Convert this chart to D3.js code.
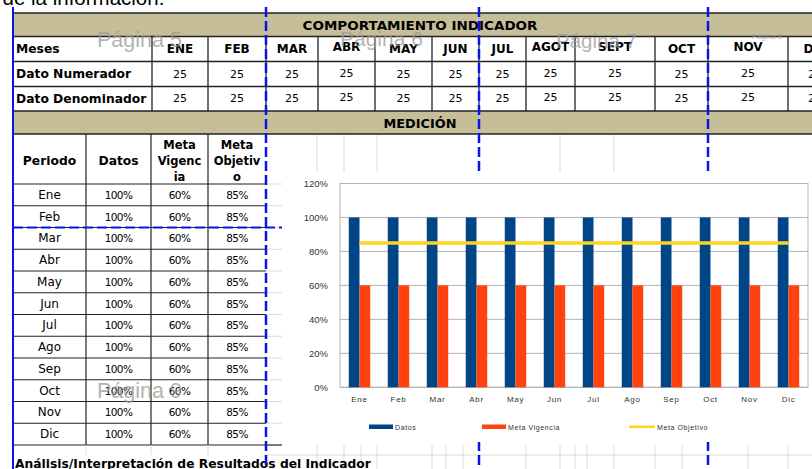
<!DOCTYPE html>
<html><head><meta charset="utf-8">
<script src="https://cdn.jsdelivr.net/npm/d3@7"></script>
<style>html,body{margin:0;padding:0;background:#fff;overflow:hidden}</style>
</head><body>
<svg id="c" width="812" height="469"></svg>
<script>
// ---------- DATA ----------
const monthHeaders = ["ENE","FEB","MAR","ABR","MAY","JUN","JUL","AGOT","SEPT","OCT","NOV","DIC"];
const numerador   = [25,25,25,25,25,25,25,25,25,25,25,25];
const denominador = [25,25,25,25,25,25,25,25,25,25,25,25];
const months = ["Ene","Feb","Mar","Abr","May","Jun","Jul","Ago","Sep","Oct","Nov","Dic"];
const datos        = [1,1,1,1,1,1,1,1,1,1,1,1];
const metaVigencia = [0.6,0.6,0.6,0.6,0.6,0.6,0.6,0.6,0.6,0.6,0.6,0.6];
const metaObjetivo = [0.85,0.85,0.85,0.85,0.85,0.85,0.85,0.85,0.85,0.85,0.85,0.85];
const yTicks = [0,0.2,0.4,0.6,0.8,1.0,1.2];
const seriesNames = ["Datos","Meta Vigencia","Meta Objetivo"];

// ---------- SETUP ----------
const svg = d3.select("#c");
const TAN = "#C5BE98", LINE = "#222", GRID = "#dcdcdc";
const BOLD = "'DejaVu Sans', sans-serif";
const pct = v => Math.round(v*100) + "%";

svg.append("rect").attr("width",812).attr("height",469).attr("fill","#fff");

// cut-off sentence above the table
svg.append("text").attr("x",-10).attr("y",5).attr("font-family","Liberation Sans, Arial")
  .attr("font-size",20.5).attr("fill","#000").text("r de la información.");

// ---------- TOP TABLE ----------
const colX = [13,152,208,266,318,375,432,479,526,575,655,708,788,842];
const rowY = [13,36.5,61.5,86.5,111,134];
const topG = svg.append("g");
topG.append("rect").attr("x",13).attr("y",rowY[0]).attr("width",800).attr("height",rowY[1]-rowY[0]).attr("fill",TAN);
topG.append("rect").attr("x",13).attr("y",rowY[4]).attr("width",800).attr("height",rowY[5]-rowY[4]).attr("fill",TAN);
rowY.forEach(yy => topG.append("line").attr("x1",13).attr("x2",812).attr("y1",yy).attr("y2",yy)
  .attr("stroke",LINE).attr("stroke-width", 1.3));
colX.forEach(xx => topG.append("line").attr("x1",xx).attr("x2",xx).attr("y1",rowY[1]).attr("y2",rowY[4])
  .attr("stroke",LINE).attr("stroke-width",1.3));

topG.append("text").attr("x",420).attr("y",25).attr("text-anchor","middle").attr("dominant-baseline","central")
  .attr("font-family",BOLD).attr("font-weight","bold").attr("font-size",12.5)
  .attr("textLength",235).attr("lengthAdjust","spacingAndGlyphs").text("COMPORTAMIENTO INDICADOR");
topG.append("text").attr("x",420).attr("y",123).attr("text-anchor","middle").attr("dominant-baseline","central")
  .attr("font-family",BOLD).attr("font-weight","bold").attr("font-size",12.5)
  .attr("textLength",73).attr("lengthAdjust","spacingAndGlyphs").text("MEDICIÓN");

const rowLabels = ["Meses","Dato Numerador","Dato Denominador"];
rowLabels.forEach((t,i) => topG.append("text").attr("x",16).attr("y",(rowY[i+1]+rowY[i+2])/2)
  .attr("dominant-baseline","central").attr("font-family",BOLD).attr("font-weight","bold")
  .attr("font-size",12.3).text(t));

monthHeaders.forEach((m,i) => {
  const cx = (colX[i+1]+colX[i+2])/2;
  const raised = (m==="ABR"||m==="AGOT"||m==="SEPT"||m==="NOV") ? -2 : 0;
  topG.append("text").attr("x",cx).attr("y",(rowY[1]+rowY[2])/2+raised).attr("text-anchor","middle")
    .attr("dominant-baseline","central").attr("font-family",BOLD).attr("font-weight","bold")
    .attr("font-size",12).text(m);
  topG.append("text").attr("x",cx).attr("y",(rowY[2]+rowY[3])/2+raised/2).attr("text-anchor","middle")
    .attr("dominant-baseline","central").attr("font-family",BOLD).attr("font-size",11).text(numerador[i]);
  topG.append("text").attr("x",cx).attr("y",(rowY[3]+rowY[4])/2+raised/2).attr("text-anchor","middle")
    .attr("dominant-baseline","central").attr("font-family",BOLD).attr("font-size",11).text(denominador[i]);
});

// ---------- SHEET GRIDLINES (light) ----------
const grid = svg.append("g").attr("stroke",GRID).attr("stroke-width",1);
[317,344,377,560,614].forEach(xx => grid.append("line").attr("x1",xx).attr("x2",xx).attr("y1",135).attr("y2",172));
[317,344,361,377,432,446,463,526,560,575,587,614,655,682,748,788].forEach(xx =>
  grid.append("line").attr("x1",xx).attr("x2",xx).attr("y1",445).attr("y2",469));
grid.append("line").attr("x1",266).attr("x2",812).attr("y1",455).attr("y2",455);

// ---------- SUB TABLE ----------
const subX = [13,86,151,208,266];
const rH = 21.75, r0 = 184;
const sub = svg.append("g");
for (let k=0;k<=12;k++){
  const yy = r0 + k*rH;
  sub.append("line").attr("x1",13).attr("x2",266).attr("y1",yy).attr("y2",yy).attr("stroke",LINE).attr("stroke-width",1.2);
  sub.append("line").attr("x1",266).attr("x2",282).attr("y1",yy).attr("y2",yy).attr("stroke",k===12?LINE:GRID).attr("stroke-width",k===12?1.2:1);
}
subX.slice(1,4).forEach(xx => sub.append("line").attr("x1",xx).attr("x2",xx).attr("y1",134).attr("y2",r0+12*rH)
  .attr("stroke",LINE).attr("stroke-width",1.2));
[86,151,208].forEach(xx => sub.append("line").attr("x1",xx).attr("x2",xx).attr("y1",445).attr("y2",455).attr("stroke",GRID));

const hdr = (xx,yy,t,fs) => sub.append("text").attr("x",xx).attr("y",yy).attr("text-anchor","middle")
  .attr("dominant-baseline","central").attr("font-family",BOLD).attr("font-weight","bold").attr("font-size",fs).text(t);
hdr(49.5,160.5,"Periodo",12.3); hdr(118.5,160.5,"Datos",12.3);
hdr(179.5,144.5,"Meta",11.5); hdr(179.5,160.5,"Vigenc",11.5); hdr(179.5,176.5,"ia",11.5);
hdr(237,144.5,"Meta",11.5); hdr(237,160.5,"Objetiv",11.5); hdr(237,176.5,"o",11.5);

months.forEach((m,i) => {
  const cy = r0 + i*rH + rH/2;
  const cell = (xx,t,fs,ls) => sub.append("text").attr("x",xx).attr("y",cy).attr("text-anchor","middle")
    .attr("dominant-baseline","central").attr("font-family",BOLD).attr("font-size",fs)
    .attr("letter-spacing",ls).text(t);
  cell(49.5,m,12,0);
  cell(118.5,pct(datos[i]),10.5,-0.6);
  cell(179.5,pct(metaVigencia[i]),10.5,-0.6);
  cell(237,pct(metaObjetivo[i]),10.5,-0.6);
});

svg.append("text").attr("x",15).attr("y",468).attr("font-family",BOLD).attr("font-weight","bold")
  .attr("font-size",12.3).text("Análisis/Interpretación de Resultados del Indicador");

// ---------- PAGE BREAKS behind chart ----------
const BLUE = "#0a14e6";
[479,708].forEach(xx => svg.append("line").attr("x1",xx).attr("x2",xx).attr("y1",7).attr("y2",469)
  .attr("stroke",BLUE).attr("stroke-width",2.5).attr("stroke-dasharray","10,4"));

// ---------- CHART ----------
const ch = svg.append("g");
ch.append("rect").attr("x",282).attr("y",172).attr("width",530).attr("height",270).attr("fill","#fff");

const plot = {l:340, r:808, t:183.5, b:387.3};
const y = d3.scaleLinear().domain([0,1.2]).range([plot.b, plot.t]);
const x0 = d3.scaleBand().domain(months).range([plot.l, plot.r]).paddingInner(0.45).paddingOuter(0.225);
const x1 = d3.scaleBand().domain(["Datos","Meta Vigencia"]).range([0, x0.bandwidth()]);

ch.append("g").selectAll("line").data(yTicks).join("line")
  .attr("x1",plot.l).attr("x2",plot.r).attr("y1",d=>y(d)).attr("y2",d=>y(d))
  .attr("stroke","#b3b3b3").attr("stroke-width",1);
ch.append("rect").attr("x",plot.l).attr("y",plot.t).attr("width",plot.r-plot.l).attr("height",plot.b-plot.t)
  .attr("fill","none").attr("stroke","#b3b3b3").attr("stroke-width",1);

const yAxis = d3.axisLeft(y).tickValues(yTicks).tickFormat(d3.format(".0%")).tickSize(0).tickPadding(12);
const ya = ch.append("g").attr("transform",`translate(${plot.l},0)`).call(yAxis);
ya.select(".domain").remove();
ya.selectAll("text").attr("font-family","Liberation Sans, Arial").attr("font-size",9.5).attr("fill","#333");

const xAxis = d3.axisBottom(x0).tickSize(0).tickPadding(9);
const xa = ch.append("g").attr("transform",`translate(0,${plot.b})`).call(xAxis);
xa.select(".domain").remove();
xa.selectAll("text").attr("font-family","Liberation Sans, Arial").attr("font-size",8)
  .attr("letter-spacing",0.7).attr("fill","#333");

const COL = {"Datos":"#004586","Meta Vigencia":"#FF420E","Meta Objetivo":"#FFD320"};
const barData = months.map((m,i)=>({m, vals:[{k:"Datos",v:datos[i]},{k:"Meta Vigencia",v:metaVigencia[i]}]}));
ch.append("g").selectAll("g").data(barData).join("g")
  .attr("transform",d=>`translate(${x0(d.m)},0)`)
  .selectAll("rect").data(d=>d.vals).join("rect")
  .attr("x",d=>x1(d.k)).attr("width",x1.bandwidth())
  .attr("y",d=>y(d.v)).attr("height",d=>plot.b-y(d.v)).attr("fill",d=>COL[d.k]);

const line = d3.line().x((d,i)=>x0(months[i])+x0.bandwidth()/2).y(d=>y(d));
ch.append("path").datum(metaObjetivo).attr("d",line).attr("fill","none")
  .attr("stroke",COL["Meta Objetivo"]).attr("stroke-width",3.6);

const lg = ch.append("g").attr("font-family","Liberation Sans, Arial").attr("font-size",7).attr("fill","#333");
const legX = [369,482,629];
seriesNames.forEach((s,i)=>{
  if (i<2) lg.append("rect").attr("x",legX[i]).attr("y",424.5).attr("width",24).attr("height",4.5).attr("fill",COL[s]);
  else lg.append("line").attr("x1",legX[i]).attr("x2",legX[i]+26).attr("y1",426.8).attr("y2",426.8)
    .attr("stroke",COL[s]).attr("stroke-width",2.5);
  lg.append("text").attr("x",legX[i]+(i<2?26:28)).attr("y",427).attr("dominant-baseline","central")
    .attr("letter-spacing",0.6).text(s);
});

// ---------- PAGE BREAKS on top ----------
svg.append("line").attr("x1",13).attr("x2",13).attr("y1",7).attr("y2",469).attr("stroke",BLUE).attr("stroke-width",2);
svg.append("line").attr("x1",266).attr("x2",266).attr("y1",7).attr("y2",469)
  .attr("stroke",BLUE).attr("stroke-width",2.5).attr("stroke-dasharray","10,4");
svg.append("line").attr("x1",13).attr("x2",282).attr("y1",227.5).attr("y2",227.5)
  .attr("stroke",BLUE).attr("stroke-width",2).attr("stroke-dasharray","10,4");

// ---------- PAGE WATERMARKS ----------
const wm = svg.append("g").attr("font-family","Liberation Sans, Arial").attr("fill","#9a9a9a").attr("opacity",0.75);
wm.append("text").attr("x",97).attr("y",47).attr("font-size",21.5).text("Página 5");
wm.append("text").attr("x",340).attr("y",46).attr("font-size",21).text("Página 6");
wm.append("text").attr("x",556).attr("y",48).attr("font-size",20.5).text("Página 7");
wm.append("text").attr("x",752).attr("y",39).attr("font-size",7.5).text("Página 8");
wm.append("text").attr("x",97).attr("y",398).attr("font-size",21.5).text("Página 9");
</script>
</body></html>
